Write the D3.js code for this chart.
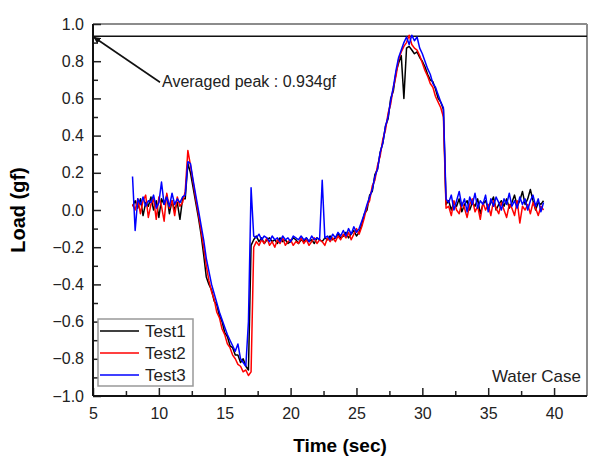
<!DOCTYPE html>
<meta charset="utf-8">
<style>
body { margin: 0; background: #fff; }
svg text { font-family: "Liberation Sans", Arial, sans-serif; }
.axis text { font-size: 16px; fill: #222; }
.axis line { stroke: #222; stroke-width: 1.5px; }
.series { fill: none; stroke-width: 1.5px; stroke-linejoin: round; }
</style>
<body>
<script src="https://d3js.org/d3.v7.min.js"></script>
<script>

// sample times (sec)
const time = [
  8.0, 8.2, 8.4, 8.6, 8.8, 9.0, 9.2, 9.4, 9.6, 9.8,
  10.0, 10.2, 10.4, 10.6, 10.8, 11.0, 11.2, 11.4, 11.6, 11.8,
  12.0, 12.2, 12.4, 12.6, 12.8, 13.0, 13.2, 13.4, 13.6, 13.8,
  14.0, 14.2, 14.4, 14.6, 14.8, 15.0, 15.2, 15.4, 15.6, 15.8,
  16.0, 16.2, 16.4, 16.6, 16.8, 17.0, 17.2, 17.4, 17.6, 17.8,
  18.0, 18.2, 18.4, 18.6, 18.8, 19.0, 19.2, 19.4, 19.6, 19.8,
  20.0, 20.2, 20.4, 20.6, 20.8, 21.0, 21.2, 21.4, 21.6, 21.8,
  22.0, 22.2, 22.4, 22.6, 22.8, 23.0, 23.2, 23.4, 23.6, 23.8,
  24.0, 24.2, 24.4, 24.6, 24.8, 25.0, 25.2, 25.4, 25.6, 25.8,
  26.0, 26.2, 26.4, 26.6, 26.8, 27.0, 27.2, 27.4, 27.6, 27.8,
  28.0, 28.2, 28.4, 28.6, 28.8, 29.0, 29.2, 29.4, 29.6, 29.8,
  30.0, 30.2, 30.4, 30.6, 30.8, 31.0, 31.2, 31.4, 31.6, 31.8,
  32.0, 32.2, 32.4, 32.6, 32.8, 33.0, 33.2, 33.4, 33.6, 33.8,
  34.0, 34.2, 34.4, 34.6, 34.8, 35.0, 35.2, 35.4, 35.6, 35.8,
  36.0, 36.2, 36.4, 36.6, 36.8, 37.0, 37.2, 37.4, 37.6, 37.8,
  38.0, 38.2, 38.4, 38.6, 38.8, 39.0, 39.2
];

// load (gf) for each test
const test1 = [
  0.02, 0.05, 0.01, 0.06, -0.03, 0.04, 0.02, 0.07, 0.0, 0.05,
  -0.04, 0.06, 0.03, 0.08, -0.02, 0.05, 0.0, 0.04, -0.05, 0.06,
  0.06, 0.25, 0.2, 0.12, 0.04, -0.04, -0.13, -0.24, -0.36, -0.4,
  -0.43, -0.49, -0.51, -0.57, -0.6, -0.66, -0.68, -0.73, -0.74, -0.78,
  -0.78, -0.82, -0.8, -0.84, -0.86, -0.19, -0.16, -0.14, -0.17, -0.15,
  -0.18, -0.16, -0.15, -0.17, -0.16, -0.18, -0.15, -0.17, -0.16, -0.18,
  -0.17, -0.15, -0.16, -0.18, -0.16, -0.17, -0.15, -0.17, -0.16, -0.18,
  -0.15, -0.16, -0.17, -0.15, -0.16, -0.14, -0.16, -0.15, -0.13, -0.15,
  -0.14, -0.12, -0.15, -0.13, -0.11, -0.14, -0.12, -0.08, -0.02, 0.0,
  0.08, 0.1, 0.19, 0.22, 0.31, 0.36, 0.45, 0.49, 0.6, 0.64,
  0.74, 0.79, 0.83, 0.6, 0.87, 0.88, 0.86, 0.84, 0.85, 0.82,
  0.8, 0.77, 0.73, 0.7, 0.69, 0.65, 0.6, 0.58, 0.54, 0.03,
  0.05, 0.0, 0.04, 0.02, 0.06, -0.01, 0.03, 0.05, 0.0, 0.04,
  0.02, 0.06, -0.02, 0.03, 0.05, 0.01, 0.04, 0.07, 0.0, 0.03,
  0.05, 0.02, 0.06, 0.01, 0.04, 0.08, 0.02, 0.05, 0.1, 0.03,
  0.06, 0.11, 0.05, 0.0, 0.04, 0.03, 0.05
];
const test2 = [
  0.03, 0.0, 0.06, -0.02, 0.05, 0.08, -0.04, 0.03, 0.06, -0.05,
  0.07, 0.02, -0.06, 0.09, 0.01, 0.05, -0.03, 0.07, 0.02, 0.04,
  0.1, 0.32, 0.24, 0.15, 0.06, -0.02, -0.11, -0.2, -0.3, -0.38,
  -0.44, -0.48, -0.55, -0.58, -0.64, -0.67, -0.72, -0.74, -0.78, -0.8,
  -0.83, -0.84, -0.87, -0.86, -0.89, -0.87, -0.2, -0.17, -0.19, -0.16,
  -0.18, -0.15, -0.19, -0.17, -0.2, -0.16, -0.18, -0.15, -0.19, -0.17,
  -0.16, -0.19, -0.17, -0.18, -0.15, -0.18, -0.16, -0.19, -0.17, -0.15,
  -0.18, -0.16, -0.17, -0.19, -0.15, -0.17, -0.15, -0.17, -0.14, -0.16,
  -0.13, -0.15, -0.12, -0.16, -0.13, -0.1, -0.13, -0.09, -0.04, 0.02,
  0.05, 0.13, 0.16, 0.24, 0.29, 0.38, 0.43, 0.52, 0.57, 0.66,
  0.72, 0.81, 0.85, 0.88, 0.9, 0.94, 0.89, 0.87, 0.86, 0.83,
  0.79, 0.75, 0.72, 0.68, 0.66, 0.61, 0.58, 0.55, 0.5, 0.01,
  0.02, -0.03, 0.05, 0.0, -0.02, 0.04, 0.01, -0.04, 0.03, 0.06,
  -0.01, 0.02, -0.05, 0.04, 0.0, 0.03, -0.03, 0.05, 0.01, -0.02,
  0.04, 0.0, -0.04, 0.03, 0.01, -0.03, 0.05, -0.07, 0.02, 0.0,
  0.03, -0.02, 0.04, 0.01, -0.03, 0.02, 0.0
];
const test3 = [
  0.18, -0.11, 0.06, 0.03, 0.07, 0.02, 0.05, 0.04, 0.08, 0.01,
  0.04, 0.15, 0.03, 0.07, 0.02, 0.09, 0.03, 0.06, 0.04, 0.07,
  0.08, 0.26, 0.25, 0.16, 0.08, 0.0, -0.08, -0.16, -0.26, -0.33,
  -0.4, -0.45, -0.5, -0.55, -0.59, -0.63, -0.67, -0.7, -0.73, -0.76,
  -0.72, -0.8, -0.82, -0.84, -0.6, 0.12, -0.14, -0.15, -0.13, -0.16,
  -0.14, -0.15, -0.17, -0.14, -0.16, -0.15, -0.17, -0.14, -0.16, -0.15,
  -0.17, -0.14, -0.15, -0.16, -0.14, -0.16, -0.15, -0.17, -0.14, -0.16,
  -0.15, -0.16, 0.16, -0.15, -0.14, -0.16, -0.13, -0.15, -0.12, -0.14,
  -0.11, -0.14, -0.1, -0.13, -0.09, -0.12, -0.1, -0.06, -0.02, 0.03,
  0.07, 0.11, 0.18, 0.22, 0.31, 0.36, 0.45, 0.5, 0.59, 0.66,
  0.75, 0.82, 0.86, 0.9, 0.93, 0.89, 0.94, 0.91, 0.93, 0.87,
  0.84, 0.8, 0.76, 0.73, 0.68, 0.66, 0.62, 0.58, 0.55, 0.06,
  0.04, 0.08, 0.0, 0.05, 0.1, 0.02, 0.06, -0.01, 0.07, 0.03,
  0.09, 0.01, 0.05, 0.03, 0.08, -0.01, 0.06, 0.02, 0.07, 0.04,
  0.0, 0.06, 0.03, 0.09, 0.02, 0.05, 0.01, 0.07, 0.03, 0.06,
  0.0, 0.05, 0.08, 0.02, 0.06, -0.01, 0.04
];

const seriesNames = ["Test1", "Test2", "Test3"];
const seriesColors = ["#000000", "#ff0000", "#0000ff"];
const xTicks = [5, 10, 15, 20, 25, 30, 35, 40];
const xMinorTicks = [7.5, 12.5, 17.5, 22.5, 27.5, 32.5, 37.5];
const yTicks = [-1.0, -0.8, -0.6, -0.4, -0.2, 0.0, 0.2, 0.4, 0.6, 0.8, 1.0];
const yMinorTicks = [-0.9, -0.7, -0.5, -0.3, -0.1, 0.1, 0.3, 0.5, 0.7, 0.9];
const peakValue = 0.934;

// set the dimensions and margins of the graph
let margin = {top: 24, right: 6, bottom: 61, left: 93},
    width = 593 - margin.left - margin.right,
    height = 457 - margin.top - margin.bottom;

let x = d3.scaleLinear().domain([5, 42.5]).range([0, width]);
let y = d3.scaleLinear().domain([-1, 1]).range([height, 0]);

let svg = d3.select("body").append("svg")
    .attr("width", 593)
    .attr("height", 457);

let defs = svg.append("defs");
defs.append("marker")
    .attr("id", "arrowhead")
    .attr("viewBox", "0 0 10 10")
    .attr("refX", 9).attr("refY", 5)
    .attr("markerWidth", 7).attr("markerHeight", 7)
    .attr("markerUnits", "userSpaceOnUse")
    .attr("orient", "auto")
  .append("path")
    .attr("d", "M0,0L10,5L0,10Z")
    .attr("fill", "#111");

let g = svg.append("g")
    .attr("transform", "translate(" + margin.left + "," + margin.top + ")");

// frame: top and right are grey, left/bottom axes are black
g.append("line").attr("x1", 0).attr("x2", width).attr("y1", 0).attr("y2", 0)
    .attr("stroke", "#8c8c8c").attr("stroke-width", 2);
g.append("line").attr("x1", width).attr("x2", width).attr("y1", 0).attr("y2", height)
    .attr("stroke", "#8c8c8c").attr("stroke-width", 2);

// axes with inward ticks
let xAxis = g.append("g").attr("class", "axis")
    .attr("transform", "translate(0," + height + ")")
    .call(d3.axisBottom(x).tickValues(xTicks).tickSize(-8).tickPadding(12).tickFormat(d3.format("d")));
xAxis.select(".domain").remove();
let xMinor = g.append("g").attr("class", "axis")
    .attr("transform", "translate(0," + height + ")")
    .call(d3.axisBottom(x).tickValues(xMinorTicks).tickSize(-5).tickFormat(""));
xMinor.select(".domain").remove();

let yAxis = g.append("g").attr("class", "axis")
    .call(d3.axisLeft(y).tickValues(yTicks).tickSize(-8).tickPadding(9).tickFormat(d3.format(".1f")));
yAxis.select(".domain").remove();
let yMinor = g.append("g").attr("class", "axis")
    .call(d3.axisLeft(y).tickValues(yMinorTicks).tickSize(-5).tickFormat(""));
yMinor.select(".domain").remove();

g.append("line").attr("x1", 0).attr("x2", width).attr("y1", height).attr("y2", height)
    .attr("stroke", "#111").attr("stroke-width", 2);
g.append("line").attr("x1", 0).attr("x2", 0).attr("y1", 0).attr("y2", height)
    .attr("stroke", "#111").attr("stroke-width", 2);

// averaged peak line
g.append("line")
    .attr("x1", x(5)).attr("x2", width)
    .attr("y1", y(peakValue)).attr("y2", y(peakValue))
    .attr("stroke", "#111").attr("stroke-width", 1.5);

// the series
let valueline = d3.line()
    .x(function (d) { return x(d[0]); })
    .y(function (d) { return y(d[1]); });

[test1, test2, test3].forEach(function (vals, k) {
    let data = time.map(function (t, i) { return [t, vals[i]]; });
    g.append("path")
        .datum(data)
        .attr("class", "series")
        .attr("stroke", seriesColors[k])
        .attr("d", valueline);
});

// annotation
g.append("line")
    .attr("x1", x(5) + 67).attr("y1", y(peakValue) + 46)
    .attr("x2", x(5) + 1).attr("y2", y(peakValue) + 1)
    .attr("stroke", "#111").attr("stroke-width", 1.6)
    .attr("marker-end", "url(#arrowhead)");
g.append("text")
    .attr("x", x(5) + 69).attr("y", y(peakValue) + 51)
    .attr("font-size", "16px").attr("fill", "#222")
    .text("Averaged peak : " + peakValue + "gf");

// legend
let legend = g.append("g").attr("transform", "translate(5,295)");
legend.append("rect")
    .attr("width", 95).attr("height", 67)
    .attr("fill", "#fff").attr("stroke", "#999").attr("stroke-width", 1.5);
seriesNames.forEach(function (name, k) {
    let ly = 12 + k * 22;
    legend.append("line")
        .attr("x1", 2).attr("x2", 41).attr("y1", ly).attr("y2", ly)
        .attr("stroke", seriesColors[k]).attr("stroke-width", 1.5);
    legend.append("text")
        .attr("x", 47).attr("y", ly + 6)
        .attr("font-size", "17px").attr("fill", "#222")
        .text(name);
});

g.append("text")
    .attr("x", width - 6).attr("y", height - 14)
    .attr("text-anchor", "end")
    .attr("font-size", "17px").attr("fill", "#222")
    .text("Water Case");

// axis titles
g.append("text")
    .attr("x", width / 2).attr("y", height + 56)
    .attr("text-anchor", "middle")
    .attr("font-size", "19px").attr("font-weight", "bold")
    .text("Time (sec)");
g.append("text")
    .attr("transform", "rotate(-90)")
    .attr("x", -height / 2).attr("y", -68)
    .attr("text-anchor", "middle")
    .attr("font-size", "20px").attr("font-weight", "bold")
    .text("Load (gf)");

</script>
</body>
